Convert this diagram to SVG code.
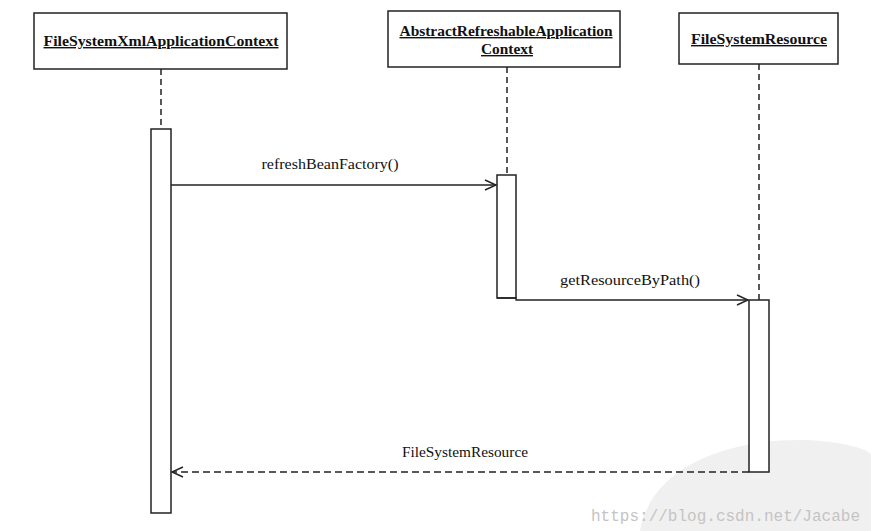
<svg xmlns="http://www.w3.org/2000/svg" width="871" height="531" viewBox="0 0 871 531">
<style>
.box{fill:#fff;stroke:#222;stroke-width:1.5}
.act{fill:#fff;stroke:#222;stroke-width:1.5}
.life{stroke:#222;stroke-width:1.5;stroke-dasharray:6,4;fill:none}
.msg{stroke:#222;stroke-width:1.3;fill:none}
.ret{stroke:#222;stroke-width:1.3;fill:none;stroke-dasharray:7,4}
.hd{font-family:"Liberation Serif",serif;font-size:14px;font-weight:bold;text-decoration:underline;fill:#111}
.lbl{font-family:"Liberation Serif",serif;font-size:14px;fill:#111}
.wm{font-family:"Liberation Mono",monospace;font-size:16px;fill:#c4c4c4}
</style>
<defs>
<marker id="open" markerWidth="14" markerHeight="14" refX="12" refY="6" orient="auto" markerUnits="userSpaceOnUse">
<path d="M1,1 L12,6 L1,11" fill="none" stroke="#222" stroke-width="1.4"/>
</marker>
</defs>
<rect width="871" height="531" fill="#fff"/>
<path d="M640,531 C650,470 720,440 800,440 C840,440 871,450 871,455 L871,531 Z" fill="#f0f0f0"/>
<g id="lifelines">
<line class="life" x1="161" y1="69" x2="161" y2="129"/>
<line class="life" x1="507" y1="67" x2="507" y2="175"/>
<line class="life" x1="759" y1="64" x2="759" y2="300"/>
</g>
<g id="node-fsxac">
<rect class="box" x="34" y="13" width="253" height="56"/>
<text class="hd" x="161" y="46" text-anchor="middle" textLength="235" lengthAdjust="spacingAndGlyphs">FileSystemXmlApplicationContext</text>
<rect class="act" x="151" y="129" width="20" height="384"/>
</g>
<g id="node-arac">
<rect class="box" x="388" y="11" width="232" height="56"/>
<text class="hd" x="506" y="36" text-anchor="middle" textLength="213" lengthAdjust="spacingAndGlyphs">AbstractRefreshableApplication</text>
<text class="hd" x="507" y="54" text-anchor="middle" textLength="52" lengthAdjust="spacingAndGlyphs">Context</text>
<rect class="act" x="497" y="175" width="19" height="123"/>
</g>
<g id="node-fsr">
<rect class="box" x="679" y="13" width="159" height="51"/>
<text class="hd" x="759" y="44" text-anchor="middle" textLength="136" lengthAdjust="spacingAndGlyphs">FileSystemResource</text>
<rect class="act" x="749" y="300" width="20" height="172"/>
</g>
<g id="connectors">
<line class="msg" x1="171" y1="185" x2="496" y2="185" marker-end="url(#open)"/>
<text class="lbl" x="330" y="169" text-anchor="middle" textLength="137" lengthAdjust="spacingAndGlyphs">refreshBeanFactory()</text>
<polyline class="msg" points="497,298 516,298 516,300 748,300" marker-end="url(#open)"/>
<text class="lbl" x="630" y="285" text-anchor="middle" textLength="140" lengthAdjust="spacingAndGlyphs">getResourceByPath()</text>
<line class="ret" x1="749" y1="472" x2="172" y2="472" marker-end="url(#open)"/>
<text class="lbl" x="465" y="457" text-anchor="middle" textLength="126" lengthAdjust="spacingAndGlyphs">FileSystemResource</text>
</g>
<text class="wm" x="591" y="521" textLength="269" lengthAdjust="spacingAndGlyphs">https://blog.csdn.net/Jacabe</text>
</svg>
